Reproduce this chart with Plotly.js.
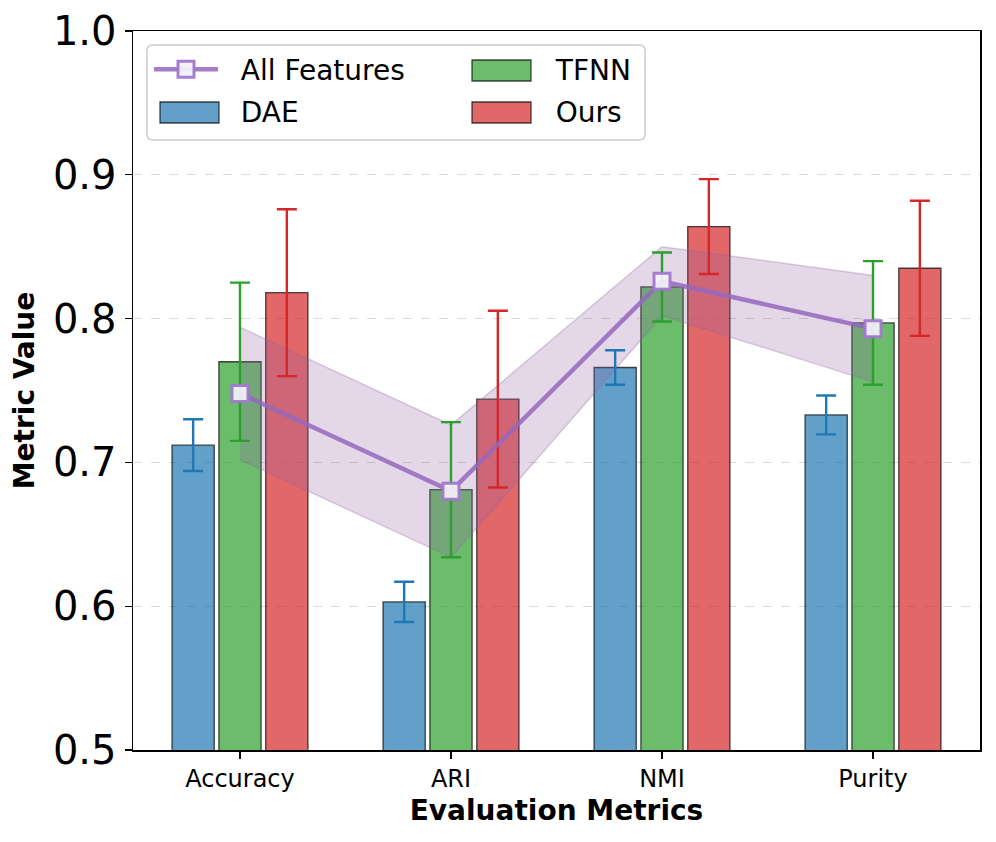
<!DOCTYPE html>
<html>
<head>
<meta charset="utf-8">
<script src="https://cdn.plot.ly/plotly-3.0.1.min.js"></script>
<style>html,body{margin:0;padding:0;background:#fff;}#chart{width:996px;height:842px;}</style>
</head>
<body>
<div id="chart"></div>
<script>
// ---- data ----
const categories = ["Accuracy", "ARI", "NMI", "Purity"];
const daeValues  = [0.712, 0.603, 0.766, 0.733];
const daeErr     = [0.018, 0.014, 0.012, 0.0135];
const tfnnValues = [0.770, 0.681, 0.822, 0.797];
const tfnnErr    = [0.055, 0.047, 0.024, 0.043];
const oursValues = [0.818, 0.744, 0.864, 0.835];
const oursErr    = [0.058, 0.0615, 0.033, 0.047];
const allFeatValues = [0.748, 0.680, 0.826, 0.793];
const allFeatErr    = [0.046, 0.046, 0.024, 0.037];
const yTicks = [0.5, 0.6, 0.7, 0.8, 0.9, 1.0];

// ---- styling ----
const FONT = "DejaVu Sans, Verdana, sans-serif";
const NB = "\u00a0\u00a0";
const barW = 0.2, step = 0.222;
const idx = categories.map((_, i) => i);
const px = v => (v - 133) / 847;
const py = v => 1 - (v - 31) / 719;
const series = [
  {name: "DAE",  vals: daeValues,  err: daeErr,  off: -step, fill: "rgba(31,119,180,0.7)", solid: "#1f77b4", leg: "legend",  rank: 2, sw: [160, 102]},
  {name: "TFNN", vals: tfnnValues, err: tfnnErr, off: 0,     fill: "rgba(44,160,44,0.7)",  solid: "#2ca02c", leg: "legend2", rank: 1, sw: [472, 60]},
  {name: "Ours", vals: oursValues, err: oursErr, off: step,  fill: "rgba(214,39,40,0.7)",  solid: "#d62728", leg: "legend2", rank: 2, sw: [472, 102]}
];

const traces = [];
// bars
series.forEach(s => {
  traces.push({
    type: "bar", name: s.name, showlegend: false,
    x: idx.map(i => i + s.off), y: s.vals, width: barW,
    marker: {color: s.fill, line: {color: "rgba(0,0,0,0.7)", width: 1.3}},
    hoverinfo: "skip"
  });
});
// band for All Features
const upper = allFeatValues.map((v, i) => v + allFeatErr[i]);
const lower = allFeatValues.map((v, i) => v - allFeatErr[i]);
traces.push({
  type: "scatter", mode: "lines", showlegend: false, hoverinfo: "skip",
  x: idx.concat(idx.slice().reverse()),
  y: upper.concat(lower.slice().reverse()),
  fill: "toself", fillcolor: "rgba(147,99,163,0.25)",
  line: {color: "rgba(147,99,163,0.3)", width: 1.5}
});
// error bars on top of band
series.forEach(s => {
  traces.push({
    type: "scatter", mode: "markers", showlegend: false, hoverinfo: "skip",
    x: idx.map(i => i + s.off), y: s.vals,
    marker: {size: 1, opacity: 0},
    error_y: {type: "data", array: s.err, visible: true, color: s.solid, thickness: 2.4, width: 10}
  });
});
// All Features line
traces.push({
  type: "scatter", mode: "lines+markers", name: NB + "All Features",
  legend: "legend", legendrank: 1, legendgroup: "af",
  x: idx, y: allFeatValues,
  line: {color: "rgba(148,103,189,0.85)", width: 4.5},
  marker: {symbol: "square", size: 16, color: "rgba(244,242,248,0.92)", line: {color: "rgba(160,120,205,0.95)", width: 3}}
});
// legend text entries for the bar series (swatches drawn as shapes below)
series.forEach(s => {
  traces.push({
    type: "scatter", mode: "lines", name: NB + s.name, legend: s.leg, legendrank: s.rank,
    legendgroup: s.name, x: [null], y: [null], hoverinfo: "skip",
    line: {color: "rgba(0,0,0,0)", width: 1}
  });
});

const bx0 = px(147), bx1 = px(645), by0 = py(140), by1 = py(45);
const rx = 6 / 847, ry = 6 / 719;
const boxPath = `M ${bx0 + rx} ${by1} L ${bx1 - rx} ${by1} Q ${bx1} ${by1} ${bx1} ${by1 - ry} ` +
  `L ${bx1} ${by0 + ry} Q ${bx1} ${by0} ${bx1 - rx} ${by0} L ${bx0 + rx} ${by0} Q ${bx0} ${by0} ${bx0} ${by0 + ry} ` +
  `L ${bx0} ${by1 - ry} Q ${bx0} ${by1} ${bx0 + rx} ${by1} Z`;

const shapes = [{
  type: "path", xref: "paper", yref: "paper", layer: "above", path: boxPath,
  fillcolor: "rgba(255,255,255,0.8)", line: {color: "#cccccc", width: 1.5}
}];
series.forEach(s => {
  shapes.push({
    type: "rect", xref: "paper", yref: "paper", layer: "above",
    x0: px(s.sw[0]), x1: px(s.sw[0] + 59), y0: py(s.sw[1] + 21), y1: py(s.sw[1]),
    fillcolor: s.fill, line: {color: "rgba(0,0,0,0.7)", width: 1.3}
  });
});

const legendCommon = {
  orientation: "v", yanchor: "top", xanchor: "left", y: 0.981,
  font: {size: 28, family: FONT}, bgcolor: "rgba(0,0,0,0)", borderwidth: 0,
  itemwidth: 64, tracegroupgap: 2, traceorder: "grouped"
};

const layout = {
  width: 996, height: 842,
  margin: {l: 133, r: 16, t: 31, b: 92},
  paper_bgcolor: "#fff", plot_bgcolor: "#fff",
  font: {family: FONT, color: "#000"},
  showlegend: true,
  xaxis: {
    range: [-0.507, 3.507], tickvals: idx, ticktext: categories,
    tickfont: {size: 24, family: FONT}, ticks: "outside", ticklen: 7, tickwidth: 1.3, tickcolor: "#000",
    showline: true, linecolor: "#000", linewidth: 1.5, mirror: true, showgrid: false, zeroline: false,
    title: {text: "<b>Evaluation Metrics</b>", font: {size: 28, family: FONT}, standoff: 8}
  },
  yaxis: {
    range: [0.5, 1.0], tickvals: yTicks, tickformat: ".1f",
    tickfont: {size: 40, family: FONT}, ticks: "outside", ticklen: 7, tickwidth: 1.3, tickcolor: "#000",
    showline: true, linecolor: "#000", linewidth: 1.5, mirror: true,
    showgrid: true, gridcolor: "rgba(190,190,190,0.6)", griddash: "dash", gridwidth: 1, zeroline: false,
    title: {text: "<b>Metric Value</b>", font: {size: 28, family: FONT}, standoff: 10}
  },
  shapes: shapes,
  legend: Object.assign({}, legendCommon, {x: px(149)}),
  legend2: Object.assign({}, legendCommon, {x: px(464)})
};

Plotly.newPlot("chart", traces, layout, {displayModeBar: false, staticPlot: true});
</script>
</body>
</html>
